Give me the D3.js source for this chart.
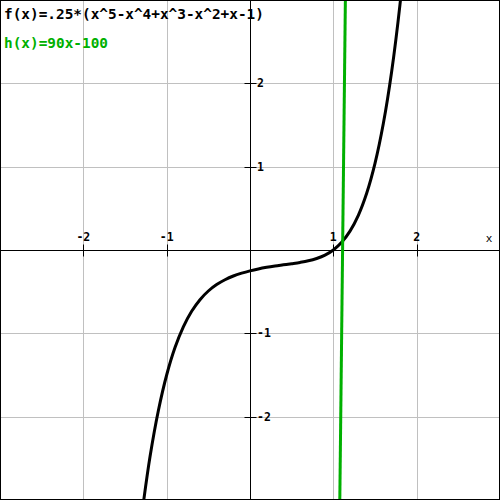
<!DOCTYPE html>
<html><head><meta charset="utf-8">
<script src="https://cdn.jsdelivr.net/npm/d3@7"></script>
<style>body{margin:0;background:#fff}svg{display:block}</style>
</head><body>
<script>
// x ticks and y ticks
const xTicks = [-2, -1, 1, 2];
const yTicks = [-2, -1, 1, 2];
// f(x) samples
const fX = [-1.3,-1.2,-1.1,-1.0,-0.9,-0.8,-0.7,-0.6,-0.5,-0.4,-0.3,-0.2,-0.1,0,0.1,0.2,0.3,0.4,0.5,0.6,0.7,0.8,0.9,1.0,1.1,1.2,1.3,1.4,1.5,1.6,1.7,1.8,1.9];
const fY = [-3.189,-2.482,-1.929,-1.5,-1.171,-0.922,-0.735,-0.596,-0.492,-0.415,-0.357,-0.312,-0.278,-0.25,-0.227,-0.208,-0.192,-0.178,-0.164,-0.149,-0.130,-0.102,-0.062,0,0.092,0.226,0.416,0.680,1.039,1.517,2.142,2.948,3.969];
// h(x) endpoints
const hX = [1.07, 1.15];
const hY = [-3.7, 3.5];
const labels = ["f(x)=.25*(x^5-x^4+x^3-x^2+x-1)", "h(x)=90x-100"];

const W = 500, H = 500;
const svg = d3.select("body").append("svg").attr("width", W).attr("height", H);
const x = d3.scaleLinear().domain([-3, 3]).range([0, 500]);
const y = d3.scaleLinear().domain([-3, 3]).range([500, 0]);
const font = "'DejaVu Sans Mono', monospace";

svg.append("rect").attr("width", W).attr("height", H).attr("fill", "#fff");
svg.append("defs").append("clipPath").attr("id", "c").append("rect").attr("width", W).attr("height", H);

// grid
svg.selectAll(".gx").data(xTicks).join("line")
  .attr("x1", d => Math.round(x(d)) + 0.5).attr("x2", d => Math.round(x(d)) + 0.5)
  .attr("y1", 0).attr("y2", H).attr("stroke", "#c0c0c0").attr("stroke-width", 1);
svg.selectAll(".gy").data(yTicks).join("line")
  .attr("y1", d => Math.round(y(d)) + 0.5).attr("y2", d => Math.round(y(d)) + 0.5)
  .attr("x1", 0).attr("x2", W).attr("stroke", "#c0c0c0").attr("stroke-width", 1);

// axes
const x0 = Math.round(x(0)) + 0.5, y0 = Math.round(y(0)) + 0.5;
svg.append("line").attr("x1", 0).attr("x2", W).attr("y1", y0).attr("y2", y0).attr("stroke", "#000");
svg.append("line").attr("y1", 0).attr("y2", H).attr("x1", x0).attr("x2", x0).attr("stroke", "#000");

// tick marks
svg.selectAll(".tx").data(xTicks).join("line")
  .attr("x1", d => Math.round(x(d)) + 0.5).attr("x2", d => Math.round(x(d)) + 0.5)
  .attr("y1", y0 - 6).attr("y2", y0 + 6).attr("stroke", "#000");
svg.selectAll(".ty").data(yTicks).join("line")
  .attr("y1", d => Math.round(y(d)) + 0.5).attr("y2", d => Math.round(y(d)) + 0.5)
  .attr("x1", x0 - 6).attr("x2", x0 + 6).attr("stroke", "#000");

// tick labels
svg.selectAll(".lx").data(xTicks).join("text")
  .attr("x", d => x(d)).attr("y", 241).attr("text-anchor", "middle")
  .attr("font-family", font).attr("font-size", 11.5).attr("font-weight", "bold")
  .text(d => d < 0 ? "-" + Math.abs(d) : d);
svg.selectAll(".ly").data(yTicks).join("text")
  .attr("x", 257).attr("y", d => y(d) + 4).attr("text-anchor", "start")
  .attr("font-family", font).attr("font-size", 11.5).attr("font-weight", "bold")
  .text(d => d < 0 ? "-" + Math.abs(d) : d);
svg.append("text").attr("x", 489).attr("y", 242).attr("text-anchor", "middle")
  .attr("font-family", font).attr("font-size", 11).text("x");

// curves
const g = svg.append("g").attr("clip-path", "url(#c)");
const line = d3.line().x(d => x(d[0])).y(d => y(d[1])).curve(d3.curveCatmullRom);
g.append("path").datum(fX.map((v, i) => [v, fY[i]])).attr("d", line)
  .attr("fill", "none").attr("stroke", "#000").attr("stroke-width", 3);
g.append("path").datum(hX.map((v, i) => [v, hY[i]])).attr("d", d3.line().x(d => x(d[0])).y(d => y(d[1])))
  .attr("fill", "none").attr("stroke", "#00b000").attr("stroke-width", 3);

// legend text
svg.append("text").attr("x", 4).attr("y", 19).attr("font-family", font).attr("font-size", 14.4)
  .attr("font-weight", "bold").attr("fill", "#000").text(labels[0]);
svg.append("text").attr("x", 4).attr("y", 48).attr("font-family", font).attr("font-size", 14.4)
  .attr("font-weight", "bold").attr("fill", "#00b000").text(labels[1]);

// border
svg.append("rect").attr("x", 0.5).attr("y", 0.5).attr("width", W - 1).attr("height", H - 1)
  .attr("fill", "none").attr("stroke", "#000");
</script>
</body></html>
